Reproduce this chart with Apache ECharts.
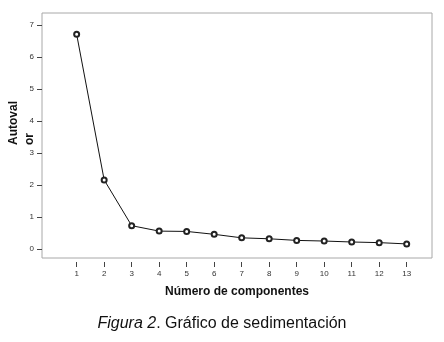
<!DOCTYPE html>
<html>
<head>
<meta charset="utf-8">
<script src="https://cdn.jsdelivr.net/npm/echarts@6/dist/echarts.min.js"></script>
<style>
  html, body { margin: 0; padding: 0; background: #fff; }
  #chart { width: 444px; height: 342px; }
</style>
</head>
<body>
<div id="chart"></div>
<script>
// componentes (eje x) y autovalores
var componentes = [1, 2, 3, 4, 5, 6, 7, 8, 9, 10, 11, 12, 13];
var autovalores = [6.71, 2.16, 0.73, 0.56, 0.55, 0.46, 0.35, 0.32, 0.27, 0.25, 0.22, 0.20, 0.16];
var yTicks = [0, 1, 2, 3, 4, 5, 6, 7];

var fuente = 'Liberation Sans, Arial, sans-serif';

var chart = echarts.init(document.getElementById('chart'));
chart.setOption({
  animation: false,
  backgroundColor: '#fff',
  title: {
    text: '{i|Figura 2}. Gráfico de sedimentación',
    left: 'center',
    top: 311,
    textStyle: {
      fontFamily: fuente,
      fontSize: 16,
      fontWeight: 'normal',
      color: '#111',
      rich: {
        i: { fontFamily: fuente, fontSize: 16, fontStyle: 'italic', color: '#111' }
      }
    }
  },
  graphic: [{
    type: 'text',
    x: 6,
    y: 145,
    rotation: Math.PI / 2,
    style: {
      text: 'Autoval\nor',
      font: 'bold 12px ' + fuente,
      fill: '#111',
      align: 'left',
      verticalAlign: 'top',
      lineHeight: 16
    }
  }],
  grid: {
    left: 42,
    right: 12,
    top: 13,
    bottom: 84,
    show: true,
    borderColor: '#a8a8a8',
    borderWidth: 1
  },
  xAxis: {
    type: 'value',
    min: -0.26,
    max: 13.92,
    offset: 4,
    name: 'Número de componentes',
    nameLocation: 'middle',
    nameGap: 24,
    nameTextStyle: { fontFamily: fuente, fontSize: 12, fontWeight: 'bold', color: '#111' },
    axisLine: { show: false, onZero: false },
    axisTick: { show: true, length: 5, customValues: componentes, lineStyle: { color: '#444' } },
    axisLabel: { customValues: componentes, fontFamily: fuente, fontSize: 8, color: '#333', margin: 8 },
    splitLine: { show: false }
  },
  yAxis: {
    type: 'value',
    min: -0.28,
    max: 7.375,
    axisLine: { show: false, onZero: false },
    axisTick: { show: true, length: 5, customValues: yTicks, lineStyle: { color: '#444' } },
    axisLabel: { customValues: yTicks, fontFamily: fuente, fontSize: 8, color: '#333', margin: 8 },
    splitLine: { show: false }
  },
  series: [{
    type: 'line',
    data: componentes.map(function (c, i) { return [c, autovalores[i]]; }),
    symbol: 'emptyCircle',
    symbolSize: 5,
    lineStyle: { color: '#111', width: 1 },
    itemStyle: { color: '#222', borderWidth: 1 }
  }]
});
</script>
</body>
</html>
